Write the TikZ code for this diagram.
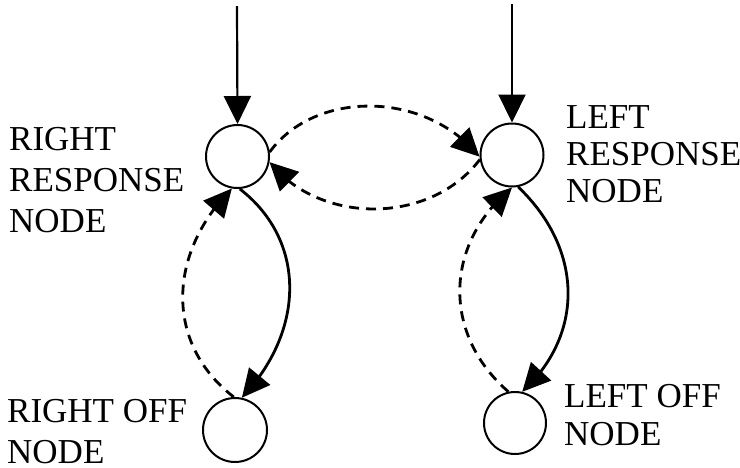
\documentclass[tikz,border=0pt]{standalone}
\usepackage{fontspec}
\setmainfont{Liberation Serif}
\usetikzlibrary{arrows.meta,bending}
\begin{document}
\begin{tikzpicture}[x=1pt,y=-1pt,
  state/.style={circle,draw,line width=2pt,inner sep=0pt,minimum size=63pt},
  lbl/.style={anchor=base west,inner sep=0pt,align=left,font=\fontsize{35}{41}\selectfont},
  tip/.style={-{Triangle[length=28pt,width=27pt,flex]}},
  solidlink/.style={tip,line width=2.8pt},
  dashlink/.style={tip,line width=2.8pt,dash pattern=on 10pt off 7pt}]
\useasboundingbox (0,0) rectangle (740,467);
% nodes
\node[state] (rr) at (237.5,156.5) {};
\node[state] (lr) at (512,155) {};
\node[state,minimum size=64pt] (ro) at (235,430) {};
\node[state,minimum size=62pt] (lo) at (515,423) {};
% labels (base = last line)
\node[lbl] (rrl) at (9,232) {RIGHT\\RESPONSE\\NODE};
\node[lbl,font=\fontsize{35}{37}\selectfont] (lrl) at (566,202) {LEFT\\RESPONSE\\NODE};
\node[lbl] (rol) at (7,463) {RIGHT OFF\\NODE};
\node[lbl,font=\fontsize{35}{38}\selectfont] (lol) at (564,445) {LEFT OFF\\NODE};
% inputs
\coordinate (rin) at (237,6);
\coordinate (lin) at (512,4);
\draw[solidlink,line width=2.2pt] (rin) -- (rr.north);
\draw[solidlink,line width=2.2pt] (lin) -- (lr.north);
% horizontal dashed
\draw[dashlink] (rr.8) .. controls (315,90) and (425,90) .. (lr.183);
\draw[dashlink] (lr.188) .. controls (430,225) and (320,225) .. (rr.350);
% right vertical
\draw[solidlink] (rr.-86) .. controls (306,240) and (306,330) .. (ro.78);
\draw[dashlink] (ro.92) .. controls (166,345) and (166,255) .. (rr.260);
% left vertical
\draw[solidlink] (lr.-79) .. controls (584,250) and (584,335) .. (lo.77);
\draw[dashlink] (lo.102) .. controls (443,335) and (443,245) .. (lr.270);
\end{tikzpicture}
\end{document}
